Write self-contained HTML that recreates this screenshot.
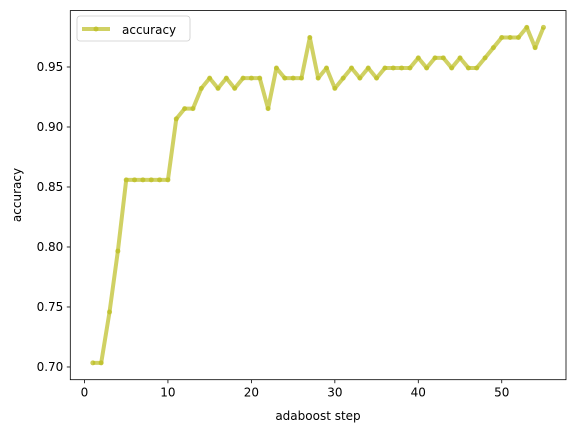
<!DOCTYPE html>
<html><head><meta charset="utf-8"><style>
body{margin:0;background:#fff}
svg text{font-family:"DejaVu Sans","Liberation Sans",sans-serif;font-size:12px;fill:#000}
</style></head><body>
<svg id="chart" width="576" height="432" xmlns="http://www.w3.org/2000/svg">
<rect x="70.3" y="10.6" width="495.7" height="369.1" fill="none" stroke="#000" stroke-width="0.8"/>
<g id="ticks"></g>
<g id="series"></g>
<text x="318" y="420" text-anchor="middle">adaboost step</text>
<text transform="translate(21,195) rotate(-90)" text-anchor="middle">accuracy</text>
<g>
<rect x="77" y="16" width="113" height="25" rx="3" fill="#fff" stroke="#ccc" stroke-width="0.8"/>
<line x1="82" y1="29" x2="110" y2="29" stroke="#bcbd22" stroke-opacity="0.7" stroke-width="4"/>
<circle cx="96" cy="29" r="2.5" fill="#bcbd22" fill-opacity="0.75"/>
<text x="122" y="34">accuracy</text>
</g>
</svg>
<script>
const steps=[];for(let i=1;i<=55;i++)steps.push(i);
const accuracy=[0.7034,0.7034,0.7458,0.7966,0.8559,0.8559,0.8559,0.8559,0.8559,0.8559,
0.9068,0.9153,0.9153,0.9322,0.9407,0.9322,0.9407,0.9322,0.9407,0.9407,
0.9407,0.9153,0.9492,0.9407,0.9407,0.9407,0.9746,0.9407,0.9492,0.9322,
0.9407,0.9492,0.9407,0.9492,0.9407,0.9492,0.9492,0.9492,0.9492,0.9576,
0.9492,0.9576,0.9576,0.9492,0.9576,0.9492,0.9492,0.9576,0.9661,0.9746,
0.9746,0.9746,0.983,0.9661,0.983];
const xTicks=[0,10,20,30,40,50];
const yTicks=[0.70,0.75,0.80,0.85,0.90,0.95];
const NS="http://www.w3.org/2000/svg";
const L=70.3,R=566,T=10.6,B=379.7;
const xmin=-1.7,xmax=57.7,ymin=0.6894,ymax=0.997;
const X=v=>L+(v-xmin)/(xmax-xmin)*(R-L);
const Y=v=>B-(v-ymin)/(ymax-ymin)*(B-T);
function mk(tag,attrs,parent){const e=document.createElementNS(NS,tag);for(const k in attrs)e.setAttribute(k,attrs[k]);parent.appendChild(e);return e;}
const tg=document.getElementById('ticks');
xTicks.forEach(v=>{
 const l=mk('line',{x1:X(v),x2:X(v),y1:B,y2:B+3.5,stroke:'#000','stroke-width':0.8},tg);
 
 
 const t=mk('text',{x:X(v),y:B+17,'text-anchor':'middle'},tg);t.textContent=v;
 
 
});
yTicks.forEach(v=>{
 const l=mk('line',{x1:L-3.5,x2:L,y1:Y(v),y2:Y(v),stroke:'#000','stroke-width':0.8},tg);
 
 
 const t=mk('text',{x:L-7,y:Y(v)+4,'text-anchor':'end'},tg);t.textContent=v.toFixed(2);
 
 
});
const sg=document.getElementById('series');
const pts=steps.map((s,i)=>X(s)+','+Y(accuracy[i])).join(' ');
const pl=mk('polyline',{points:pts,fill:'none',stroke:'#bcbd22','stroke-opacity':0.7,'stroke-width':4,'stroke-linejoin':'round'},sg);


steps.forEach((s,i)=>{
 const c=mk('circle',{cx:X(s),cy:Y(accuracy[i]),r:2.5,fill:'#bcbd22','fill-opacity':0.75},sg);
 
 
});
</script>
</body></html>
